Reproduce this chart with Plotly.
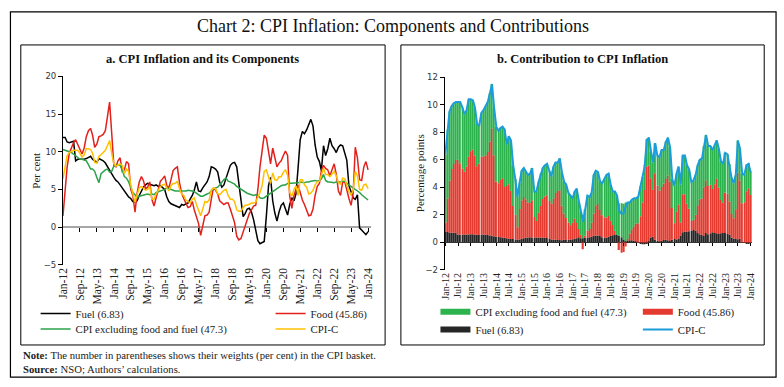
import pandas as pd
import plotly.graph_objects as go

# ---------------- DATA (monthly, Jan-12 .. Jan-24) ----------------
months = pd.date_range("2012-01-01", "2024-01-01", freq="MS")

fuel = [11.9, 11.9, 11.3, 11.2, 11.3, 11.4, 8.8, 9.0, 9.0, 9.0, 9.0, 9.1,
        9.3, 9.4, 9.0, 8.8, 8.6, 9.1, 9.0, 8.8, 8.5, 8.0, 7.6, 7.1,
        6.6, 6.2, 6.0, 5.6, 5.2, 4.7, 4.4, 4.0, 3.8, 3.4, 3.3, 3.5,
        4.2, 4.8, 5.3, 5.6, 5.8, 5.7, 5.6, 5.5, 5.6, 5.4, 5.5, 5.2,
        5.0, 4.0, 3.4, 3.1, 3.0, 2.9, 2.8, 2.6, 3.0, 2.9, 3.1, 3.2,
        3.7, 4.2, 4.9, 6.0, 4.8, 4.7, 5.2, 5.6, 6.0, 6.7, 8.0, 7.9,
        7.7, 7.3, 6.0, 5.3, 5.6, 6.5, 7.5, 8.2, 8.5, 8.6, 8.0, 5.8,
        3.5, 1.4, 1.8, 2.4, 2.5, 2.0, 1.0, -0.4, -1.8, -2.2, -2.0, -1.9,
        1.5, 5.5, 6.6, 3.5, 1.9, 0.8, 2.0, 2.9, 3.2, 2.5, 1.6, 3.0,
        3.9, 3.5, 4.4, 7.9, 11.6, 12.7, 12.4, 12.9, 13.6, 14.3, 13.4, 10.9,
        9.3, 8.7, 7.5, 10.8, 9.5, 10.4, 11.8, 10.8, 10.4, 9.9, 10.6, 10.9,
        10.8, 9.9, 8.9, 5.5, 4.6, 3.9, 3.7, 4.3, -0.1, -0.4, -0.8, -1.0,
        -0.6]

food = [1.5, 5.2, 8.0, 9.8, 10.6, 11.2, 11.6, 11.0, 10.2, 9.7, 10.5, 12.0,
        12.8, 13.1, 12.2, 10.6, 11.0, 12.0, 12.1, 12.3, 12.8, 14.5, 16.6, 12.5,
        8.2, 8.0, 8.8, 9.2, 7.4, 7.6, 8.7, 8.4, 5.0, 4.2, 2.0, 4.5,
        6.0, 6.7, 6.2, 5.1, 5.3, 6.0, 3.7, 2.8, 4.0, 5.3, 6.1, 6.4,
        6.8, 5.5, 5.2, 6.3, 7.5, 7.8, 8.0, 5.9, 4.5, 3.8, 3.2, 2.6,
        2.7, 3.4, 2.3, 1.4, 0.5, -1.1, 0.4, 1.5, 1.6, 2.0, 3.7, 5.2,
        4.9, 4.4, 3.5, 3.2, 3.0, 3.2, 3.2, 2.4, 1.5, 0.6, -1.2, -1.7,
        -1.5, -0.7, 0.2, 1.1, 1.8, 2.3, 2.8, 2.9, 5.0, 8.0, 10.0, 12.2,
        11.8, 10.0, 8.4, 10.5, 9.2, 8.0, 8.5, 8.8, 9.5, 10.1, 9.5, 4.1,
        2.5, 4.2, 5.0, 5.6, 4.6, 3.6, 3.0, 2.2, 1.5, 1.6, 2.4, 4.2,
        5.4, 5.8, 7.5, 8.2, 7.8, 7.6, 6.8, 7.6, 8.4, 7.0, 4.8, 4.2,
        6.0, 6.0, 4.8, 3.8, 2.9, 4.5, 10.6, 9.2, 6.3, 6.2, 8.0, 8.7,
        7.6]

core = [10.3, 10.2, 10.1, 10.0, 9.9, 9.7, 9.5, 9.3, 9.0, 9.0, 8.9, 8.8,
        8.3, 7.7, 7.7, 7.4, 6.6, 5.9, 7.1, 7.4, 7.6, 7.7, 7.3, 7.4,
        8.1, 8.2, 8.3, 8.2, 7.6, 6.7, 6.5, 6.0, 5.3, 4.6, 4.3, 3.9,
        4.1, 4.2, 4.2, 4.3, 4.4, 4.3, 4.4, 4.3, 4.6, 4.7, 4.8, 4.9,
        5.0, 5.2, 5.1, 5.0, 4.9, 4.8, 4.8, 4.8, 4.7, 4.7, 4.8, 4.9,
        4.9, 4.8, 4.7, 4.5, 4.3, 4.1, 4.1, 4.3, 4.4, 4.5, 4.8, 5.1,
        5.2, 5.3, 5.6, 6.0, 6.3, 6.5, 6.1, 6.0, 5.9, 5.7, 5.4, 5.2,
        5.0, 4.8, 4.7, 4.5, 4.4, 4.3, 4.2, 4.3, 4.2, 3.9, 3.8, 3.9,
        4.1, 4.3, 4.5, 4.8, 5.0, 5.2, 5.3, 5.5, 5.6, 5.6, 5.8, 5.8,
        5.8, 5.9, 5.8, 5.9, 6.0, 5.9, 5.9, 6.0, 6.0, 6.1, 6.2, 6.2,
        6.1, 6.2, 6.4, 7.0, 6.2, 6.0, 6.0, 5.9, 5.9, 6.0, 6.0, 6.0,
        6.1, 6.1, 5.8, 5.6, 5.4, 5.3, 5.0, 4.9, 4.6, 4.3, 4.1, 3.9,
        3.6]

cpi = [6.4, 8.2, 9.5, 9.9, 10.1, 10.2, 10.2, 10.2, 9.8, 9.3, 9.6, 10.4,
       10.4, 10.3, 9.8, 8.6, 8.5, 9.4, 9.6, 9.9, 10.2, 10.8, 11.5, 9.8,
       8.4, 8.1, 8.3, 8.4, 8.2, 7.1, 7.7, 7.4, 5.6, 4.6, 3.3, 4.3,
       5.2, 5.4, 5.2, 4.9, 5.0, 5.4, 3.7, 3.7, 4.4, 5.0, 5.4, 5.6,
       5.7, 5.2, 4.8, 5.5, 5.8, 5.8, 6.1, 5.1, 4.4, 4.2, 3.6, 3.4,
       3.2, 3.7, 3.9, 3.0, 2.2, 1.5, 2.4, 3.4, 3.3, 3.6, 4.9, 5.2,
       5.1, 4.4, 4.3, 4.6, 4.9, 5.0, 4.2, 3.7, 3.7, 3.4, 2.3, 2.1,
       2.1, 2.6, 2.9, 2.9, 3.1, 3.2, 3.2, 3.3, 4.0, 4.6, 5.5, 7.4,
       7.6, 6.6, 5.8, 7.2, 6.3, 6.2, 6.7, 6.7, 7.3, 7.6, 6.9, 4.6,
       4.1, 5.0, 5.5, 4.2, 6.3, 6.3, 5.6, 5.3, 4.4, 4.5, 4.9, 5.6,
       6.0, 6.1, 7.0, 7.8, 7.0, 7.0, 6.7, 7.0, 7.4, 6.8, 5.9, 5.7,
       6.5, 6.4, 5.7, 4.7, 4.3, 4.9, 7.4, 6.8, 5.0, 4.9, 5.6, 5.7,
       5.1]

fuel_contrib = [0.75, 0.75, 0.71, 0.71, 0.71, 0.72, 0.55, 0.57, 0.57, 0.57, 0.57, 0.57,
                0.59, 0.59, 0.57, 0.55, 0.54, 0.57, 0.57, 0.55, 0.54, 0.50, 0.48, 0.45,
                0.42, 0.39, 0.38, 0.35, 0.33, 0.30, 0.28, 0.25, 0.24, 0.21, 0.21, 0.22,
                0.26, 0.30, 0.33, 0.35, 0.37, 0.36, 0.35, 0.35, 0.35, 0.34, 0.35, 0.33,
                0.32, 0.25, 0.21, 0.20, 0.19, 0.18, 0.18, 0.16, 0.19, 0.18, 0.20, 0.20,
                0.23, 0.26, 0.31, 0.38, 0.30, 0.30, 0.33, 0.35, 0.38, 0.42, 0.50, 0.50,
                0.49, 0.46, 0.38, 0.33, 0.35, 0.41, 0.47, 0.52, 0.54, 0.54, 0.50, 0.37,
                0.22, 0.09, 0.11, 0.15, 0.16, 0.13, 0.06, -0.03, -0.11, -0.14, -0.13, -0.12,
                0.09, 0.35, 0.42, 0.22, 0.12, 0.05, 0.13, 0.18, 0.20, 0.16, 0.10, 0.19,
                0.25, 0.22, 0.28, 0.50, 0.73, 0.80, 0.78, 0.81, 0.86, 0.90, 0.84, 0.69,
                0.59, 0.55, 0.47, 0.68, 0.60, 0.66, 0.74, 0.68, 0.66, 0.62, 0.67, 0.69,
                0.68, 0.62, 0.56, 0.35, 0.29, 0.25, 0.23, 0.27, -0.01, -0.03, -0.05, -0.06,
                -0.04]

food_contrib = [0.70, 2.44, 3.76, 4.61, 4.98, 5.26, 5.45, 5.17, 4.79, 4.56, 4.94, 5.64,
                6.02, 6.16, 5.73, 4.98, 5.17, 5.64, 5.69, 5.78, 6.02, 6.82, 7.80, 5.88,
                4.00, 3.90, 4.15, 4.30, 3.70, 3.80, 3.95, 3.50, 2.40, 1.80, 0.90, 2.20,
                2.80, 3.00, 2.80, 2.55, 2.50, 2.70, 1.50, 1.20, 1.80, 2.30, 2.80, 3.00,
                3.10, 2.75, 2.60, 3.00, 3.40, 3.55, 3.60, 2.50, 1.90, 1.60, 1.25, 1.05,
                1.20, 1.45, 1.10, 0.60, 0.25, -0.50, 0.15, 0.50, 0.60, 1.00, 1.60, 2.20,
                2.30, 1.90, 1.60, 1.50, 1.45, 1.50, 1.10, 0.75, 0.30, 0.00, -0.55, -0.75,
                -0.70, -0.30, 0.10, 0.50, 0.80, 1.05, 1.30, 1.40, 1.90, 2.90, 3.80, 5.50,
                5.50, 4.30, 3.40, 4.80, 4.00, 3.70, 3.90, 4.10, 4.40, 4.70, 4.30, 2.30,
                1.15, 2.03, 2.47, 0.95, 2.77, 2.70, 2.02, 1.64, 0.69, 0.75, 1.16, 2.01,
                2.54, 2.64, 3.53, 3.83, 3.49, 3.52, 3.14, 3.55, 3.97, 3.36, 2.41, 2.19,
                2.95, 2.91, 2.41, 1.72, 1.47, 2.16, 4.82, 4.23, 2.85, 2.91, 3.72, 3.93,
                3.45]

core_contrib = [4.95, 5.01, 5.03, 4.58, 4.41, 4.22, 4.20, 4.46, 4.44, 4.17, 4.09, 4.19,
                3.79, 3.55, 3.50, 3.07, 2.79, 3.19, 3.34, 3.57, 3.64, 3.48, 3.22, 3.47,
                3.98, 3.81, 3.77, 3.75, 4.17, 3.00, 3.47, 3.65, 2.96, 2.59, 2.19, 1.88,
                2.14, 2.10, 2.07, 2.00, 2.13, 2.34, 1.85, 2.15, 2.25, 2.36, 2.25, 2.27,
                2.28, 2.20, 1.99, 2.30, 2.21, 2.07, 2.32, 2.44, 2.31, 2.42, 2.15, 2.15,
                1.77, 1.99, 2.49, 2.02, 1.65, 1.70, 1.92, 2.55, 2.32, 2.18, 2.80, 2.50,
                2.31, 2.04, 2.32, 2.77, 3.10, 3.09, 2.63, 2.43, 2.86, 2.86, 2.35, 2.48,
                2.58, 2.81, 2.69, 2.25, 2.14, 2.02, 1.84, 1.93, 2.21, 1.84, 1.83, 2.02,
                2.01, 1.95, 1.98, 2.18, 2.18, 2.45, 2.67, 2.42, 2.70, 2.74, 2.50, 2.11,
                2.70, 2.75, 2.75, 2.75, 2.80, 2.80, 2.80, 2.85, 2.85, 2.85, 2.90, 2.90,
                2.87, 2.91, 3.00, 3.29, 2.91, 2.82, 2.82, 2.77, 2.77, 2.82, 2.82, 2.82,
                2.87, 2.87, 2.73, 2.63, 2.54, 2.49, 2.35, 2.30, 2.16, 2.02, 1.93, 1.83,
                1.69]

ticks_a = list(months[::8])
ticks_b = list(months[::6])

# ---------------- LAYOUT HELPERS ----------------
W, H = 784, 387
def px(x):
    return x / W
def py(y):
    return 1 - y / H

SERIF = "Liberation Serif"
SANS = "DejaVu Sans"
C_FUEL, C_FOOD, C_CORE, C_CPI = "#000000", "#e3211c", "#2ca24a", "#ffc000"
B_FUEL, B_FOOD, B_CORE, B_CPI = "#262626", "#e43a2f", "#2db34e", "#1b9dd9"

fig = go.Figure()

# Panel a: lines
fig.add_trace(go.Scatter(x=months, y=fuel, mode="lines", name="Fuel (6.83)",
                         line=dict(color=C_FUEL, width=1.5), xaxis="x", yaxis="y", legend="legend"))
fig.add_trace(go.Scatter(x=months, y=food, mode="lines", name="Food (45.86)",
                         line=dict(color=C_FOOD, width=1.5), xaxis="x", yaxis="y", legend="legend2"))
fig.add_trace(go.Scatter(x=months, y=core, mode="lines", name="CPI excluding food and fuel (47.3)",
                         line=dict(color=C_CORE, width=1.5), xaxis="x", yaxis="y", legend="legend3"))
fig.add_trace(go.Scatter(x=months, y=cpi, mode="lines", name="CPI-C",
                         line=dict(color=C_CPI, width=1.5), xaxis="x", yaxis="y", legend="legend4"))
# invisible trace carrying the zero-line tick axis of panel a
fig.add_trace(go.Scatter(x=months, y=cpi, mode="lines", line=dict(width=0), opacity=0,
                         showlegend=False, hoverinfo="skip", xaxis="x3", yaxis="y"))

# Panel b: stacked bars
fig.add_trace(go.Bar(x=months, y=fuel_contrib, marker=dict(color=B_FUEL, line=dict(width=0)),
                     showlegend=False, xaxis="x2", yaxis="y2"))
fig.add_trace(go.Bar(x=months, y=food_contrib, marker=dict(color=B_FOOD, line=dict(width=0)),
                     showlegend=False, xaxis="x2", yaxis="y2"))
fig.add_trace(go.Bar(x=months, y=core_contrib, marker=dict(color=B_CORE, line=dict(width=0)),
                     showlegend=False, xaxis="x2", yaxis="y2"))
fig.add_trace(go.Scatter(x=months, y=cpi, mode="lines", name="CPI-C",
                         line=dict(color=B_CPI, width=2), xaxis="x2", yaxis="y2", legend="legend8"))
fig.add_trace(go.Scatter(x=months, y=cpi, mode="lines", line=dict(width=0), opacity=0,
                         showlegend=False, hoverinfo="skip", xaxis="x4", yaxis="y2"))
# legend keys for the bar series (wide rectangles as in the original)
fig.add_trace(go.Scatter(x=[None], y=[None], mode="lines", name="CPI excluding food and fuel (47.3)",
                         line=dict(color=B_CORE, width=6), xaxis="x2", yaxis="y2", legend="legend5"))
fig.add_trace(go.Scatter(x=[None], y=[None], mode="lines", name="Food (45.86)",
                         line=dict(color=B_FOOD, width=6), xaxis="x2", yaxis="y2", legend="legend6"))
fig.add_trace(go.Scatter(x=[None], y=[None], mode="lines", name="Fuel (6.83)",
                         line=dict(color=B_FUEL, width=6), xaxis="x2", yaxis="y2", legend="legend7"))

# Axes geometry
xa_dom = [px(57.7), px(370)]
ya_dom = [py(266.7), py(73.3)]
xb_dom = [px(444.3), px(756)]
yb_dom = [py(272), py(74)]
xa_rng = ["2012-01-01", "2024-02-16"]
xb_rng = ["2011-12-22", "2024-01-25"]
zero_a = ya_dom[0] + (5 / 25) * (ya_dom[1] - ya_dom[0])
zero_b = yb_dom[0] + (2 / 14) * (yb_dom[1] - yb_dom[0])

xtick_common = dict(type="date", showgrid=False, zeroline=False, showline=False, ticks="",
                    tickformat="%b-%y", tickangle=-90)
ytick_common = dict(showgrid=False, showline=True, linecolor="#000", linewidth=1,
                    ticks="outside", ticklen=4, tickcolor="#000", tickwidth=1,
                    tickfont=dict(family=SANS, size=8.5, color="#333"))

legend_common = dict(xanchor="left", yanchor="middle", bgcolor="rgba(0,0,0,0)", borderwidth=0,
                     font=dict(family=SERIF, size=10.8, color="#222"), orientation="v")

fig.update_layout(
    width=W, height=H, margin=dict(l=0, r=0, t=0, b=0),
    paper_bgcolor="white", plot_bgcolor="rgba(0,0,0,0)",
    barmode="relative", bargap=0.35,
    xaxis=dict(domain=xa_dom, range=xa_rng, anchor="y", tickvals=ticks_a,
               tickfont=dict(family=SERIF, size=11.5, color="#222"), **xtick_common),
    yaxis=dict(domain=ya_dom, range=[-5, 20], dtick=5, anchor="x",
               zeroline=True, zerolinecolor="#a6a6a6", zerolinewidth=2, **ytick_common),
    xaxis3=dict(domain=xa_dom, range=xa_rng, type="date", overlaying="x", anchor="free",
                position=zero_a, tickvals=ticks_a, ticks="outside", ticklen=4, tickcolor="#000",
                showticklabels=False, showline=False, showgrid=False, zeroline=False),
    xaxis2=dict(domain=xb_dom, range=xb_rng, anchor="y2", tickvals=ticks_b,
                tickfont=dict(family=SERIF, size=10, color="#222"), **xtick_common),
    yaxis2=dict(domain=yb_dom, range=[-2, 12], dtick=2, anchor="x2",
                zeroline=True, zerolinecolor="#404040", zerolinewidth=1, **ytick_common),
    xaxis4=dict(domain=xb_dom, range=xb_rng, type="date", overlaying="x2", anchor="free",
                position=zero_b, tickvals=ticks_b, ticks="outside", ticklen=3, tickcolor="#000",
                showticklabels=False, showline=False, showgrid=False, zeroline=False),
    legend=dict(x=px(30), y=py(316.7), **legend_common),
    legend2=dict(x=px(268), y=py(316.7), **legend_common),
    legend3=dict(x=px(30), y=py(332.7), **legend_common),
    legend4=dict(x=px(268), y=py(332.7), **legend_common),
    legend5=dict(x=px(435), y=py(315), **legend_common),
    legend6=dict(x=px(640), y=py(315), **legend_common),
    legend7=dict(x=px(435), y=py(333), **legend_common),
    legend8=dict(x=px(640), y=py(333), **legend_common),
)

# Frames
shapes = [
    dict(type="rect", xref="paper", yref="paper", x0=px(4.5), x1=px(780), y0=py(382), y1=py(7),
         line=dict(color="#000", width=1.2)),
    dict(type="rect", xref="paper", yref="paper", x0=px(15), x1=px(384), y0=py(349), y1=py(41),
         line=dict(color="#000", width=1)),
    dict(type="rect", xref="paper", yref="paper", x0=px(400), x1=px(768), y0=py(349), y1=py(41),
         line=dict(color="#000", width=1)),
]
fig.update_layout(shapes=shapes)

def ann(text, x, y, size, xanchor="center", angle=0, family=SERIF, color="#111"):
    fig.add_annotation(text=text, x=px(x), y=py(y), xref="paper", yref="paper",
                       xanchor=xanchor, yanchor="middle", showarrow=False, textangle=angle,
                       font=dict(family=family, size=size, color=color))

ann("Chart 2: CPI Inflation: Components and Contributions", 392, 22, 18)
ann("<b>a. CPI Inflation and its Components</b>", 199.5, 55, 12.5)
ann("<b>b. Contribution to CPI Inflation</b>", 584, 55, 12.5)
ann("Per cent", 29.5, 170, 11, angle=-90, color="#222")
ann("Percentage points", 419, 173, 11, angle=-90, color="#222")
ann("<b>Note:</b> The number in parentheses shows their weights (per cent) in the CPI basket.",
    15, 360, 10.7, xanchor="left", color="#222")
ann("<b>Source:</b> NSO; Authors\u2019 calculations.", 15, 374, 10.7, xanchor="left", color="#222")

fig.write_html("out.html", config={"displayModeBar": False},
               post_script="document.body.style.margin='0';document.body.style.overflow='hidden';")
